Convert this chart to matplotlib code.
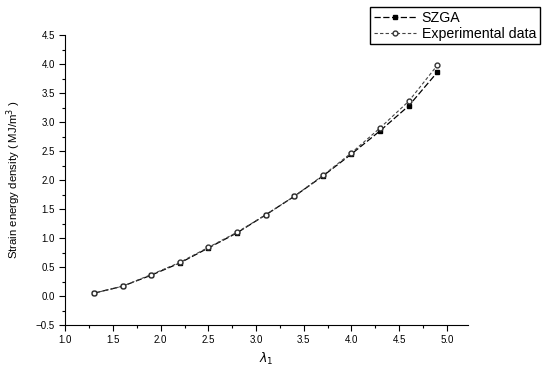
import matplotlib
matplotlib.use("Agg")
import matplotlib.pyplot as plt
from matplotlib.ticker import MultipleLocator

plt.rcParams['font.family'] = ['Liberation Sans', 'DejaVu Sans']

lam = [1.3, 1.6, 1.9, 2.2, 2.5, 2.8, 3.1, 3.4, 3.7, 4.0, 4.3, 4.6, 4.9]
szga = [0.05, 0.17, 0.36, 0.57, 0.83, 1.09, 1.40, 1.72, 2.07, 2.45, 2.85, 3.28, 3.86]
exper = [0.05, 0.17, 0.37, 0.58, 0.84, 1.10, 1.40, 1.72, 2.08, 2.47, 2.90, 3.36, 3.98]

fig = plt.figure(figsize=(5.44, 3.78), dpi=100)
ax = fig.add_axes([0.12, 0.14, 0.74, 0.767])

ax.plot(lam, szga, linestyle=(0, (5, 2)), color='black', linewidth=0.9,
        marker='s', markersize=3.5, markerfacecolor='black', label='SZGA')
ax.plot(lam, exper, linestyle=(0, (3, 2)), color='#444444', linewidth=0.8,
        marker='o', markersize=3.5, markerfacecolor='white', markeredgecolor='#333333',
        label='Experimental data')

ax.set_xlim(1.0, 5.22)
ax.set_ylim(-0.5, 4.5)
ax.xaxis.set_major_locator(MultipleLocator(0.5))
ax.xaxis.set_minor_locator(MultipleLocator(0.25))
ax.yaxis.set_major_locator(MultipleLocator(0.5))
ax.yaxis.set_minor_locator(MultipleLocator(0.25))
ax.tick_params(which='major', direction='out', length=4, width=0.8, labelsize=7)
ax.tick_params(which='minor', direction='out', length=2, width=0.8)
for s in ['top', 'right']:
    ax.spines[s].set_visible(False)

ax.set_ylabel('Strain energy density ( MJ/m$^3$ )', fontsize=8.2, labelpad=9)
ax.set_xlabel('$\\lambda_1$', fontsize=9)

fig.legend(loc='upper right', bbox_to_anchor=(1.005, 1.0), fontsize=10.2,
           frameon=True, fancybox=False, edgecolor='black', framealpha=1,
           handlelength=3.0, borderpad=0.25, labelspacing=0.15, handletextpad=0.4)

fig.savefig('out.png', dpi=100)
